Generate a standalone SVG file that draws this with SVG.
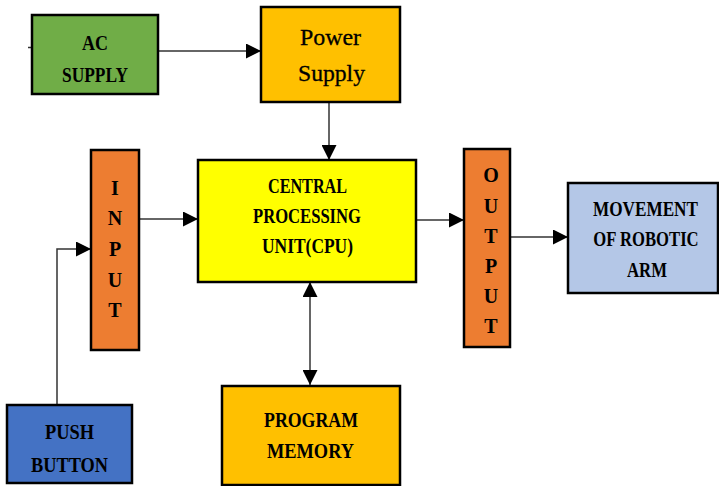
<svg xmlns="http://www.w3.org/2000/svg" width="719" height="486" viewBox="0 0 719 486">
<style>
.box{stroke:#000;stroke-width:2.5}
.t{font-family:"Liberation Serif","DejaVu Serif",serif;font-size:21px;font-weight:bold;fill:#000;text-anchor:middle}
.l{font-family:"Liberation Serif","DejaVu Serif",serif;font-size:20px;font-weight:bold;fill:#000;text-anchor:middle}
.ps{font-family:"Liberation Serif","DejaVu Serif",serif;font-size:24px;fill:#000;text-anchor:middle;stroke:#000;stroke-width:0.3}
.c{fill:none;stroke:#333;stroke-width:1.5}
</style>
<defs>
<marker id="ah" markerUnits="userSpaceOnUse" markerWidth="15" markerHeight="15" refX="15" refY="7.5" orient="auto-start-reverse" viewBox="0 0 15 15">
<path d="M0,0 L15,7.5 L0,15 z" fill="#000"/>
</marker>
</defs>
<rect width="719" height="486" fill="#fff"/>
<g id="connectors">
<line class="c" x1="28" y1="47.5" x2="32" y2="47.5"/>
<line class="c" x1="158" y1="51" x2="261" y2="51" marker-end="url(#ah)"/>
<line class="c" x1="329" y1="103" x2="329" y2="160" marker-end="url(#ah)"/>
<line class="c" x1="139" y1="219" x2="198" y2="219" marker-end="url(#ah)"/>
<polyline class="c" points="57,405 57,249 91,249" marker-end="url(#ah)"/>
<line class="c" x1="310" y1="282" x2="310" y2="385" marker-start="url(#ah)" marker-end="url(#ah)"/>
<line class="c" x1="416" y1="220" x2="464" y2="220" marker-end="url(#ah)"/>
<line class="c" x1="510" y1="237" x2="568" y2="237" marker-end="url(#ah)"/>
</g>
<g id="ac-supply">
<rect class="box" x="32" y="15" width="126" height="79" fill="#70AD47"/>
<text class="t" x="95" y="50" textLength="26" lengthAdjust="spacingAndGlyphs">AC</text>
<text class="t" x="95" y="82" textLength="66" lengthAdjust="spacingAndGlyphs">SUPPLY</text>
</g>
<g id="power-supply">
<rect class="box" x="261" y="7" width="139" height="95" fill="#FFC000"/>
<text class="ps" x="330.5" y="45" textLength="61" lengthAdjust="spacingAndGlyphs">Power</text>
<text class="ps" x="331.5" y="81" textLength="67" lengthAdjust="spacingAndGlyphs">Supply</text>
</g>
<g id="input">
<rect class="box" x="91" y="150" width="48" height="200" fill="#ED7D31"/>
<text class="l" x="115" y="195">I</text>
<text class="l" x="115" y="225">N</text>
<text class="l" x="115" y="256">P</text>
<text class="l" x="115" y="287">U</text>
<text class="l" x="115" y="317">T</text>
</g>
<g id="cpu">
<rect class="box" x="198" y="160" width="218" height="122" fill="#FFFF00"/>
<text class="t" x="307.5" y="193" textLength="79" lengthAdjust="spacingAndGlyphs">CENTRAL</text>
<text class="t" x="307" y="223" textLength="108" lengthAdjust="spacingAndGlyphs">PROCESSING</text>
<text class="t" x="307.5" y="253" textLength="91" lengthAdjust="spacingAndGlyphs">UNIT(CPU)</text>
</g>
<g id="output">
<rect class="box" x="464" y="149" width="46" height="198" fill="#ED7D31"/>
<text class="l" x="491" y="182">O</text>
<text class="l" x="491" y="213">U</text>
<text class="l" x="491" y="243">T</text>
<text class="l" x="491" y="273">P</text>
<text class="l" x="491" y="303">U</text>
<text class="l" x="491" y="333">T</text>
</g>
<g id="movement">
<rect class="box" x="568" y="183" width="150" height="110" fill="#B4C7E7"/>
<text class="t" transform="translate(645.5,216) scale(0.818,1)" x="0" y="0">MOVEMENT</text>
<text class="t" transform="translate(646,246) scale(0.793,1)" x="0" y="0">OF ROBOTIC</text>
<text class="t" x="647" y="277" textLength="40" lengthAdjust="spacingAndGlyphs">ARM</text>
</g>
<g id="program-memory">
<rect class="box" x="222" y="386" width="178" height="99" fill="#FFC000"/>
<text class="t" x="311" y="427" textLength="94" lengthAdjust="spacingAndGlyphs">PROGRAM</text>
<text class="t" x="310.5" y="458" textLength="87" lengthAdjust="spacingAndGlyphs">MEMORY</text>
</g>
<g id="push-button">
<rect class="box" x="7" y="405" width="125" height="78" fill="#4472C4"/>
<text class="t" x="69.5" y="439" textLength="49" lengthAdjust="spacingAndGlyphs">PUSH</text>
<text class="t" x="69.5" y="472" textLength="77" lengthAdjust="spacingAndGlyphs">BUTTON</text>
</g>
</svg>
